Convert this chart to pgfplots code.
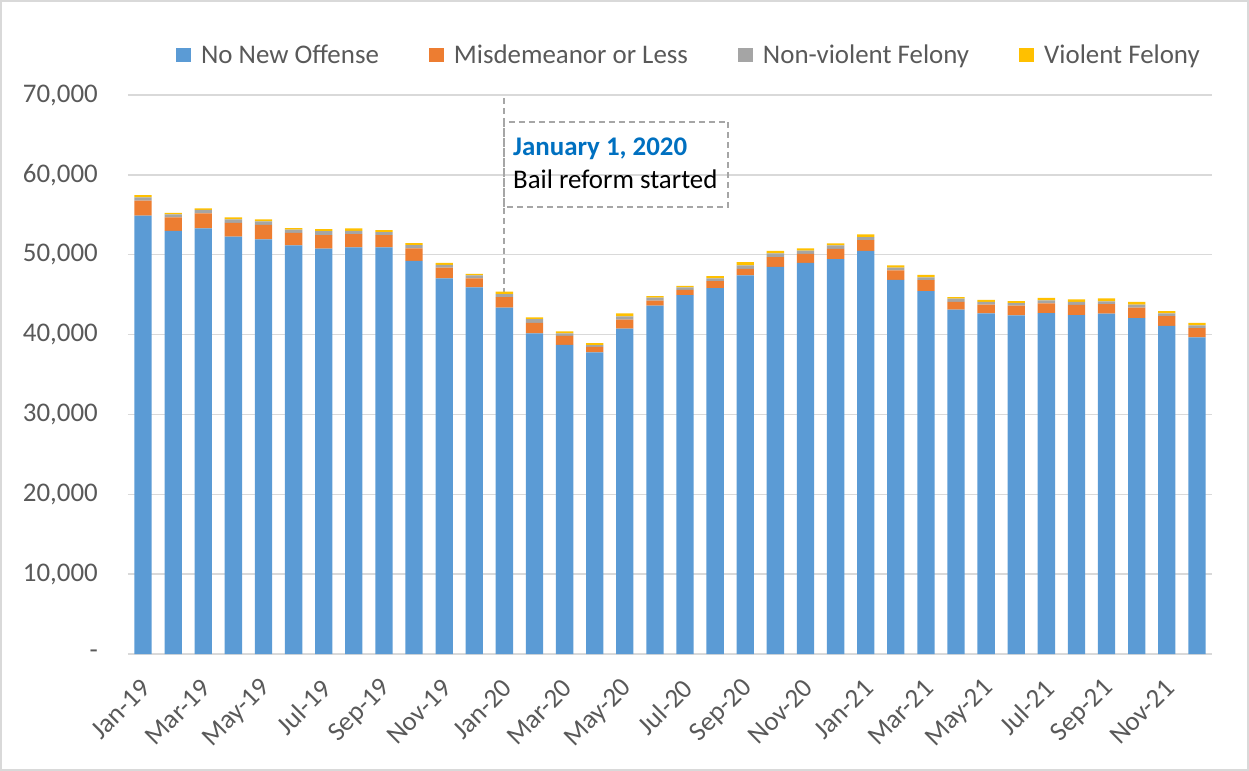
\documentclass[border=0pt]{standalone}
\usepackage{pgfplots}
\pgfplotsset{compat=1.18}
\usepackage{pgfplotstable}
\usepackage{fontspec}
\setmainfont{Carlito}
\definecolor{cblue}{HTML}{5B9BD5}
\definecolor{corange}{HTML}{ED7D31}
\definecolor{cgray}{HTML}{A5A5A5}
\definecolor{cyellow}{HTML}{FFC000}
\definecolor{txtgray}{HTML}{595959}
\definecolor{gridgray}{HTML}{D9D9D9}
\definecolor{annblue}{HTML}{0070C0}
\definecolor{dashgray}{HTML}{A6A6A6}

\pgfplotstableread{
x blue orange gray yellow
0 54880 1880 420 290
1 53000 1680 370 200
2 53300 1880 450 170
3 52250 1750 420 250
4 51920 1830 420 250
5 51170 1580 380 210
6 50750 1710 500 250
7 50920 1660 420 300
8 50920 1540 370 250
9 49240 1550 410 250
10 47040 1330 370 250
11 45910 1130 370 200
12 43360 1340 380 290
13 40150 1330 460 210
14 38720 1130 300 250
15 37770 700 210 250
16 40730 1130 420 380
17 43610 630 380 210
18 44950 660 300 200
19 45820 880 340 290
20 47410 830 420 410
21 48490 1210 460 330
22 48990 1130 380 300
23 49450 1290 430 250
24 50490 1340 380 340
25 46860 1180 330 300
26 45450 1380 340 290
27 43110 1000 380 210
28 42660 1080 340 250
29 42410 1200 340 250
30 42690 1220 380 290
31 42440 1290 380 300
32 42610 1210 340 380
33 42070 1290 380 340
34 41100 1220 340 290
35 39650 1170 340 290
}\datatable

\begin{document}
\begin{tikzpicture}
\begin{axis}[
  at={(0,0)}, anchor=south west,
  scale only axis,
  width=1084bp, height=559bp,
  xmin=-0.5, xmax=35.5,
  ymin=0, ymax=70000,
  clip=false,
  ybar stacked,
  bar width=0.575,
  axis x line*=bottom,
  axis y line*=left,
  y axis line style={draw=none},
  x axis line style={draw=gridgray, line width=1.5bp, -},
  major tick length=0,
  ymajorgrids,
  grid style={draw=gridgray, line width=1.5bp},
  scaled y ticks=false,
  ytick={0,10000,20000,30000,40000,50000,60000,70000},
  yticklabels={{-\hspace{12bp}},{10,000},{20,000},{30,000},{40,000},{50,000},{60,000},{70,000}},
  yticklabel style={font=\fontsize{27}{32}\selectfont, text=txtgray, anchor=east, inner sep=0pt, xshift=-30bp},
  xtick={0,2,...,34},
  xticklabels={Jan-19,Mar-19,May-19,Jul-19,Sep-19,Nov-19,Jan-20,Mar-20,May-20,Jul-20,Sep-20,Nov-20,Jan-21,Mar-21,May-21,Jul-21,Sep-21,Nov-21},
  xticklabel style={font=\fontsize{27}{32}\selectfont, text=txtgray, inner sep=0pt, xshift=3bp, yshift=-30bp, rotate=45, anchor=east},
  legend columns=4,
  legend style={at={(0.5175,1.0716)}, anchor=center, draw=none, fill=none,
    font=\fontsize{27}{32}\selectfont, text=txtgray, inner sep=0pt,
    /tikz/every odd column/.append style={column sep=8bp},
    /tikz/every even column/.append style={column sep=48bp}},
  legend image code/.code={\fill[#1] (0bp,-7.4bp) rectangle (15bp,7.4bp);},
  every axis plot/.append style={draw=none},
]
\addplot[fill=cblue] table[x=x, y=blue] {\datatable};
\addplot[fill=corange] table[x=x, y=orange] {\datatable};
\addplot[fill=cgray] table[x=x, y=gray] {\datatable};
\addplot[fill=cyellow] table[x=x, y=yellow] {\datatable};
\legend{No New Offense, Misdemeanor or Less, Non-violent Felony, Violent Felony}

\draw[dashgray, line width=2.2bp, dash pattern=on 6bp off 4bp] (axis cs:11.987,0) -- (axis cs:11.987,69624);
\draw[dashgray, line width=2bp, dash pattern=on 6bp off 4bp] (axis cs:11.987,56014) rectangle (axis cs:19.436,66657);
\node[anchor=base west, inner sep=0pt, font=\fontsize{27}{32}\selectfont\bfseries, text=annblue] at (axis cs:12.286,62486) {January 1, 2020};
\node[anchor=base west, inner sep=0pt, font=\fontsize{27}{32}\selectfont, text=black] at (axis cs:12.286,58316) {Bail reform started};
\end{axis}
\pgfresetboundingbox
\path[use as bounding box] (-128bp,-117bp) rectangle (1121bp,654bp);
\draw[gridgray, line width=2bp] (-127bp,-116bp) rectangle (1120bp,653bp);
\end{tikzpicture}
\end{document}
